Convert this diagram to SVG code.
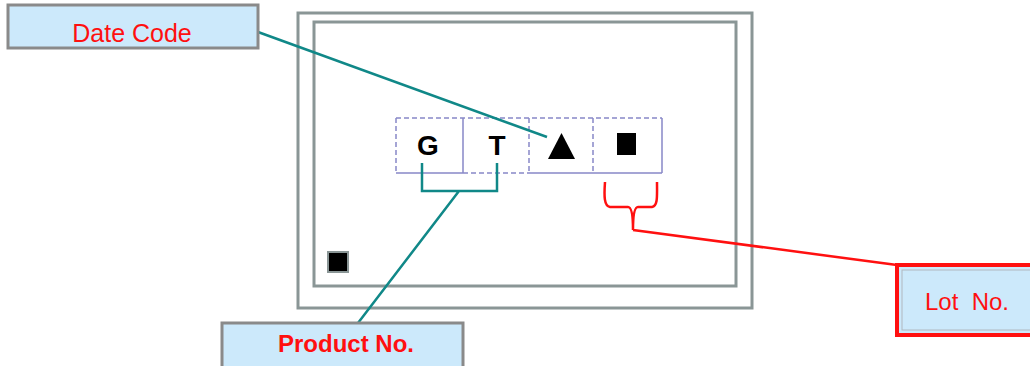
<svg xmlns="http://www.w3.org/2000/svg" width="1030" height="366" viewBox="0 0 1030 366">
<style>
.lbl{fill:#cce9fb;stroke:#8a8a8a;stroke-width:3}
.t{font-family:"Liberation Sans",Arial,sans-serif;font-size:24px;fill:#ff1010;text-anchor:middle;white-space:pre}
.frame{fill:none;stroke:#8a9696;stroke-width:3}
.cell{fill:none;stroke:#8888c8;stroke-width:1.5;stroke-dasharray:5 3}
.solid{fill:none;stroke:#8888c8;stroke-width:1.5}
.teal{fill:none;stroke:#108888;stroke-width:2.5}
.red{fill:none;stroke:#ff1010;stroke-width:2.5}
.ch{font-family:"Liberation Sans",Arial,sans-serif;font-size:28px;font-weight:bold;fill:#000;text-anchor:middle}
</style>
<rect width="1030" height="366" fill="#fff"/>
<g id="package">
<rect class="frame" x="298" y="13" width="454" height="295"/>
<rect class="frame" x="314" y="22" width="422" height="264"/>
<rect x="328" y="252" width="20" height="20" fill="#000" stroke="#8a9696" stroke-width="2"/>
</g>
<g id="marking">
<path class="cell" d="M396 118H662M396 118V173M529 118V173M593 118V173M463 173H529"/>
<path class="solid" d="M396 173H463M529 173H662M463 118V173M662 118V173"/>
<text class="ch" x="428" y="155">G</text>
<text class="ch" x="497" y="155">T</text>
<path d="M561.5 133L575 159H548Z" fill="#000"/>
<rect x="617" y="133" width="19" height="22" fill="#000"/>
</g>
<g id="connectors">
<path class="teal" d="M258 32L547 137"/>
<path class="teal" d="M422 163V191H497V163M459 191L358 323"/>
<path class="red" d="M605 182C604 196 604 206 610 207H628C631 207 633 212 633 230C633 212 635 207 638 207H652C658 206 657 196 657 182M633 230L897 265"/>
</g>
<g id="date-code">
<rect class="lbl" x="8" y="5" width="250" height="43"/>
<text class="t" x="132" y="42" style="font-size:25px">Date Code</text>
</g>
<g id="product-no">
<rect class="lbl" x="222" y="323" width="241" height="50"/>
<text class="t" x="346" y="352" style="font-size:24px;font-weight:bold">Product No.</text>
</g>
<g id="lot-no">
<rect x="897" y="265" width="140" height="70" fill="#cce9fb" stroke="#ff1010" stroke-width="4"/>
<rect x="902" y="270" width="135" height="60" fill="none" stroke="#b0b8c0" stroke-width="1"/>
<text class="t" x="967" y="310">Lot  No.</text>
</g>
</svg>
